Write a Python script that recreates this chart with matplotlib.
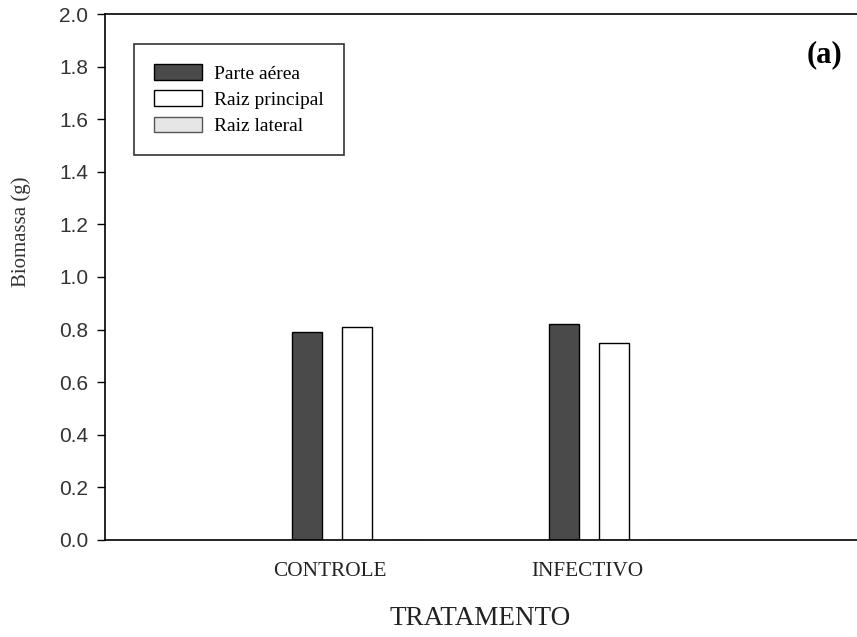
import matplotlib
matplotlib.use("Agg")
import matplotlib.pyplot as plt
import numpy as np

# data
tratamentos = ["CONTROLE", "INFECTIVO"]
parte_aerea = [0.79, 0.82]
raiz_principal = [0.81, 0.75]
raiz_lateral = [0.0, 0.0]
yticks = [0.0, 0.2, 0.4, 0.6, 0.8, 1.0, 1.2, 1.4, 1.6, 1.8, 2.0]

serif = "Liberation Serif"
sans = "Liberation Sans"

fig = plt.figure(figsize=(8.57, 6.37), dpi=100)
ax = fig.add_axes([0.1225, 0.1523, 0.8775, 0.8257])

x = np.arange(len(tratamentos))
w = 0.117
off = 0.097

b1 = ax.bar(x - off + 0.008, parte_aerea, w, color="#4a4a4a", edgecolor="black", linewidth=1, label="Parte aérea")
b2 = ax.bar(x + off + 0.008, raiz_principal, w, color="white", edgecolor="black", linewidth=1, label="Raiz principal")
b3 = ax.bar(x + 3 * off, raiz_lateral, w, color="#e6e6e6", edgecolor="#555555", linewidth=1, label="Raiz lateral")

ax.set_xlim(-0.875, 2.05)
ax.set_ylim(0, 2.0)
ax.set_yticks(yticks)
ax.set_yticklabels([f"{v:.1f}" for v in yticks], fontfamily=sans, fontsize=15, color="#333333")
ax.tick_params(axis="y", direction="out", length=6, width=1, pad=6)
ax.set_xticks(x)
ax.set_xticklabels(tratamentos, fontfamily=serif, fontsize=15.3, color="#222222")
ax.tick_params(axis="x", length=0, pad=16)

ax.spines["right"].set_visible(False)
for s in ["left", "top", "bottom"]:
    ax.spines[s].set_linewidth(1.2)

ax.set_ylabel("Biomassa (g)", fontfamily=serif, fontsize=15, color="#333333")
ax.yaxis.set_label_coords(-0.098, 0.586)
fig.text(0.56, 0.029, "TRATAMENTO", fontfamily=serif, fontsize=19.5, color="#222222", ha="center", va="center")

ax.text(0.957, 0.922, "(a)", transform=ax.transAxes, fontfamily=serif, fontsize=22,
        fontweight="bold", ha="center", va="center")

leg = ax.legend(handles=[b1, b2, b3], loc="upper left", bbox_to_anchor=(0.0386, 0.943),
                borderaxespad=0, prop={"family": serif, "size": 14}, frameon=True, fancybox=False,
                edgecolor="black", borderpad=1.05, labelspacing=0.4, handlelength=2.47,
                handleheight=0.82, handletextpad=0.6)
leg.get_frame().set_linewidth(1.2)

fig.savefig("out.png", dpi=100)
